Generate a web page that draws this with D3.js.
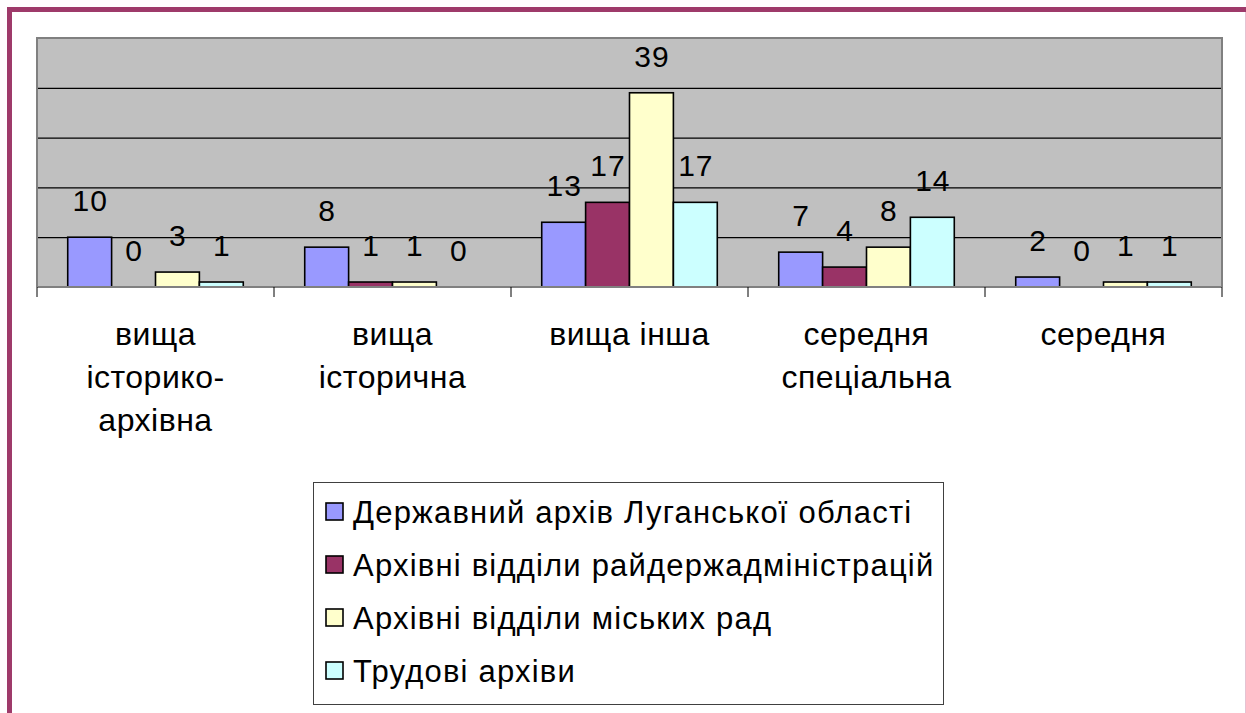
<!DOCTYPE html>
<html>
<head>
<meta charset="utf-8">
<script src="https://cdn.jsdelivr.net/npm/d3@7"></script>
<style>
  html, body { margin: 0; padding: 0; background: #fff; }
  svg { display: block; font-family: "Liberation Sans", Arial, sans-serif; }
</style>
</head>
<body>
<script>
(()=>{
    const width = 1246;
    const height = 713;

    // categories (wrapped lines) and series
    const categories = ["вища історико-архівна", "вища історична", "вища інша", "середня спеціальна", "середня"];
    const categoryLines = [["вища", "історико-", "архівна"], ["вища", "історична"], ["вища інша"], ["середня", "спеціальна"], ["середня"]];
    const seriesNames = ["Державний архів Луганської області", "Архівні відділи райдержадміністрацій", "Архівні відділи міських рад", "Трудові архіви"];
    const seriesColors = ["#9999FF", "#993366", "#FFFFCC", "#CCFFFF"];

    const stateArchive = [10, 8, 13, 7, 2];
    const districtArchive = [0, 1, 17, 4, 0];
    const cityArchive = [3, 1, 39, 8, 1];
    const laborArchive = [1, 0, 17, 14, 1];
    const yTicks = [0, 10, 20, 30, 40, 50];

    const seriesValues = [stateArchive, districtArchive, cityArchive, laborArchive];
    const rows = categories.map((c, i) => ({
        category: c,
        values: seriesNames.map((s, j) => ({ key: s, value: seriesValues[j][i] }))
    }));

    const plot = { left: 37, right: 1222, top: 38, bottom: 287 };

    const svg = d3.create("svg")
        .attr("width", width)
        .attr("height", height)
        .attr("viewBox", [0, 0, width, height]);

    // outer frame
    svg.append("rect").attr("x", 7).attr("y", 7).attr("width", width - 7).attr("height", 5).attr("fill", "#9E3A6A");
    svg.append("rect").attr("x", 7).attr("y", 7).attr("width", 5).attr("height", height - 7).attr("fill", "#9E3A6A");
    svg.append("line").attr("x1", 1245.5).attr("x2", 1245.5).attr("y1", 12).attr("y2", height)
        .attr("stroke", "#E4C3D3").attr("stroke-width", 1);

    const x0 = d3.scaleBand()
        .domain(categories)
        .range([plot.left, plot.right]);

    const x1 = d3.scaleBand()
        .domain(seriesNames)
        .range([0, x0.bandwidth()])
        .paddingInner(0)
        .paddingOuter(0.7);

    const y = d3.scaleLinear()
        .domain([0, 50])
        .range([plot.bottom, plot.top]);

    const color = d3.scaleOrdinal().domain(seriesNames).range(seriesColors);

    // plot area
    svg.append("rect")
        .attr("x", plot.left).attr("y", plot.top)
        .attr("width", plot.right - plot.left).attr("height", plot.bottom - plot.top)
        .attr("fill", "#C0C0C0");

    // gridlines
    svg.append("g")
        .selectAll("line")
        .data(yTicks.filter(t => t > 0 && t < 50))
        .join("line")
        .attr("x1", plot.left).attr("x2", plot.right)
        .attr("y1", d => y(d) + 0.5).attr("y2", d => y(d) + 0.5)
        .attr("stroke", "#000").attr("stroke-width", 1.3);

    // plot border (top, left, right)
    svg.append("path")
        .attr("d", `M${plot.left},${plot.bottom}V${plot.top}H${plot.right}V${plot.bottom}`)
        .attr("fill", "none").attr("stroke", "#808080").attr("stroke-width", 2);

    // bars
    const groups = svg.append("g")
        .selectAll("g")
        .data(rows)
        .join("g")
        .attr("transform", d => `translate(${x0(d.category)},0)`);

    groups.selectAll("rect")
        .data(d => d.values)
        .join("rect")
        .attr("x", d => x1(d.key))
        .attr("y", d => y(d.value))
        .attr("width", x1.bandwidth())
        .attr("height", d => y(0) - y(d.value))
        .attr("fill", d => color(d.key))
        .attr("stroke", "#000")
        .attr("stroke-width", 1.6)
        .attr("display", d => d.value > 0 ? null : "none");

    groups.selectAll("text")
        .data(d => d.values)
        .join("text")
        .attr("x", d => x1(d.key) + x1.bandwidth() / 2 + 0.5)
        .attr("y", d => y(d.value) - 26)
        .attr("text-anchor", "middle")
        .attr("font-size", 30)
        .attr("letter-spacing", 1)
        .attr("fill", "#000")
        .text(d => d.value);

    // category axis
    const axis = svg.append("g");
    axis.append("line")
        .attr("x1", plot.left).attr("x2", plot.right)
        .attr("y1", plot.bottom).attr("y2", plot.bottom)
        .attr("stroke", "#808080").attr("stroke-width", 2);
    axis.selectAll(".tick")
        .data(categories.map(c => x0(c)).concat([plot.right]))
        .join("line")
        .attr("class", "tick")
        .attr("x1", d => d).attr("x2", d => d)
        .attr("y1", plot.bottom).attr("y2", plot.bottom + 10)
        .attr("stroke", "#000").attr("stroke-width", 1);

    axis.selectAll(".cat")
        .data(categories)
        .join("text")
        .attr("class", "cat")
        .attr("text-anchor", "middle")
        .attr("font-size", 32)
        .attr("letter-spacing", 0.5)
        .attr("fill", "#000")
        .selectAll("tspan")
        .data((d, i) => categoryLines[i].map(l => ({ line: l, cx: x0(d) + x0.bandwidth() / 2 })))
        .join("tspan")
        .attr("x", d => d.cx)
        .attr("y", (d, i) => 345 + i * 43)
        .text(d => d.line);

    // legend
    const legend = svg.append("g");
    legend.append("rect")
        .attr("x", 313.5).attr("y", 482.5).attr("width", 630).attr("height", 222)
        .attr("fill", "#fff").attr("stroke", "#404040").attr("stroke-width", 1);

    const item = legend.selectAll(".item")
        .data(seriesNames)
        .join("g")
        .attr("class", "item")
        .attr("transform", (d, i) => `translate(0,${512 + i * 53})`);

    item.append("rect")
        .attr("x", 326).attr("y", -9).attr("width", 17).attr("height", 17)
        .attr("fill", d => color(d)).attr("stroke", "#000").attr("stroke-width", 1.6);

    item.append("text")
        .attr("x", 353).attr("y", 11)
        .attr("font-size", 31)
        .attr("letter-spacing", 1.2)
        .attr("fill", "#000")
        .text(d => d);

    d3.select("body").append(() => svg.node());
})()
</script>
</body>
</html>
